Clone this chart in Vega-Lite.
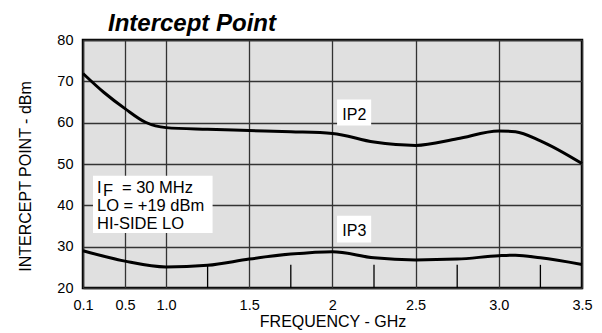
{
  "$schema": "https://vega.github.io/schema/vega-lite/v6.json",
  "width": 499,
  "height": 248,
  "autosize": {"type": "none"},
  "padding": {"left": 83, "top": 40, "right": 20, "bottom": 45},
  "background": "white",
  "config": {
    "font": "Liberation Sans",
    "view": {"fill": "#e0e0e0", "stroke": "black", "strokeWidth": 2.5},
    "axis": {"gridColor": "#333333", "gridWidth": 1.3, "gridOpacity": 1, "domain": false, "ticks": false,
             "labelFont": "Liberation Sans", "labelFontSize": 14.5, "labelColor": "black",
             "titleFont": "Liberation Sans", "titleFontSize": 16, "titleFontWeight": "normal", "titleColor": "black"}
  },
  "title": {"text": "Intercept Point", "anchor": "start", "frame": "group", "dx": 25, "offset": -4,
            "font": "Liberation Sans", "fontSize": 24, "fontWeight": "bold", "fontStyle": "italic", "color": "black"},
  "datasets": {
    "curves": [
      {"f": 0.1, "ip": 71.9, "s": "IP2"}, {"f": 0.3, "ip": 67.3, "s": "IP2"}, {"f": 0.5, "ip": 63.4, "s": "IP2"},
      {"f": 0.75, "ip": 60.1, "s": "IP2"}, {"f": 1.0, "ip": 58.8, "s": "IP2"}, {"f": 1.25, "ip": 58.4, "s": "IP2"},
      {"f": 1.5, "ip": 58.1, "s": "IP2"}, {"f": 1.75, "ip": 57.8, "s": "IP2"}, {"f": 2.0, "ip": 57.4, "s": "IP2"},
      {"f": 2.25, "ip": 55.3, "s": "IP2"}, {"f": 2.5, "ip": 54.5, "s": "IP2"}, {"f": 2.75, "ip": 56.1, "s": "IP2"},
      {"f": 3.0, "ip": 58.0, "s": "IP2"}, {"f": 3.1, "ip": 57.8, "s": "IP2"}, {"f": 3.25, "ip": 55.6, "s": "IP2"},
      {"f": 3.5, "ip": 50.1, "s": "IP2"},
      {"f": 0.1, "ip": 29.0, "s": "IP3"}, {"f": 0.5, "ip": 26.5, "s": "IP3"}, {"f": 1.0, "ip": 25.1, "s": "IP3"},
      {"f": 1.25, "ip": 25.5, "s": "IP3"}, {"f": 1.5, "ip": 27.0, "s": "IP3"}, {"f": 1.75, "ip": 28.2, "s": "IP3"},
      {"f": 2.0, "ip": 28.8, "s": "IP3"}, {"f": 2.25, "ip": 27.3, "s": "IP3"}, {"f": 2.5, "ip": 26.8, "s": "IP3"},
      {"f": 2.75, "ip": 27.0, "s": "IP3"}, {"f": 3.0, "ip": 27.8, "s": "IP3"}, {"f": 3.1, "ip": 27.95, "s": "IP3"},
      {"f": 3.25, "ip": 27.3, "s": "IP3"}, {"f": 3.5, "ip": 25.7, "s": "IP3"}
    ],
    "minor": [{"f": 1.25}, {"f": 1.75}, {"f": 2.25}, {"f": 2.75}, {"f": 3.25}],
    "boxes": [
      {"x1": 0.195, "x2": 1.28, "y1": 47.15, "y2": 33.3},
      {"x1": 2.028, "x2": 2.233, "y1": 65.6, "y2": 59.3},
      {"x1": 2.028, "x2": 2.233, "y1": 37.45, "y2": 30.98}
    ],
    "labels": [
      {"label": "IP2", "x": 2.132, "y": 60.65},
      {"label": "IP3", "x": 2.132, "y": 32.5}
    ],
    "notes": [
      {"t": "LO = +19 dBm", "x": 0.233, "y": 38.67},
      {"t": "HI-SIDE LO", "x": 0.233, "y": 34.38}
    ]
  },
  "layer": [
    {
      "data": {"name": "minor"},
      "mark": {"type": "rule", "color": "black", "strokeWidth": 1.3},
      "encoding": {
        "x": {"field": "f", "type": "quantitative",
              "scale": {"type": "linear", "domain": [0.1, 0.5, 1.0, 3.5], "range": [0, 42, 83, 499], "nice": false, "zero": false},
              "axis": {"values": [0.1, 0.5, 1, 1.5, 2, 2.5, 3, 3.5], "grid": true, "labelPadding": 10, "labelOverlap": false, "labelFlush": false,
                       "labelExpr": "datum.value == 2 ? '2' : format(datum.value, '.1f')",
                       "title": "FREQUENCY - GHz", "titlePadding": 2}},
        "y": {"datum": 20, "type": "quantitative",
              "scale": {"domain": [20, 80], "nice": false, "zero": false},
              "axis": {"values": [20, 30, 40, 50, 60, 70, 80], "grid": true, "labelPadding": 10,
                       "title": "INTERCEPT POINT - dBm", "titleAngle": -90, "titleX": -58, "titleY": 136,
                       "titleAlign": "center", "titleBaseline": "middle", "titleAnchor": null}},
        "y2": {"datum": 25.6}
      }
    },
    {
      "data": {"name": "curves"},
      "mark": {"type": "line", "color": "black", "strokeWidth": 3, "interpolate": "monotone"},
      "encoding": {
        "x": {"field": "f", "type": "quantitative"},
        "y": {"field": "ip", "type": "quantitative"},
        "detail": {"field": "s"}
      }
    },
    {
      "data": {"name": "boxes"},
      "mark": {"type": "rect", "color": "white"},
      "encoding": {
        "x": {"field": "x1", "type": "quantitative"},
        "x2": {"field": "x2"},
        "y": {"field": "y1", "type": "quantitative"},
        "y2": {"field": "y2"}
      }
    },
    {
      "data": {"name": "labels"},
      "mark": {"type": "text", "fontSize": 16, "baseline": "alphabetic", "align": "center", "color": "black"},
      "encoding": {
        "x": {"field": "x", "type": "quantitative"},
        "y": {"field": "y", "type": "quantitative"},
        "text": {"field": "label"}
      }
    },
    {
      "data": {"name": "notes"},
      "mark": {"type": "text", "fontSize": 16.5, "baseline": "alphabetic", "align": "left", "color": "black"},
      "encoding": {
        "x": {"field": "x", "type": "quantitative"},
        "y": {"field": "y", "type": "quantitative"},
        "text": {"field": "t"}
      }
    },
    {
      "data": {"values": [{"t": "I", "x": 0.233, "y": 43.03}]},
      "mark": {"type": "text", "fontSize": 16.5, "baseline": "alphabetic", "align": "left", "color": "black"},
      "encoding": {
        "x": {"field": "x", "type": "quantitative"},
        "y": {"field": "y", "type": "quantitative"},
        "text": {"field": "t"}
      }
    },
    {
      "data": {"values": [{"t": "F", "x": 0.233, "y": 43.03}]},
      "mark": {"type": "text", "fontSize": 16.5, "baseline": "alphabetic", "align": "left", "color": "black", "dx": 6, "dy": 3},
      "encoding": {
        "x": {"field": "x", "type": "quantitative"},
        "y": {"field": "y", "type": "quantitative"},
        "text": {"field": "t"}
      }
    },
    {
      "data": {"values": [{"t": "= 30 MHz", "x": 0.233, "y": 43.03}]},
      "mark": {"type": "text", "fontSize": 16.5, "baseline": "alphabetic", "align": "left", "color": "black", "dx": 25},
      "encoding": {
        "x": {"field": "x", "type": "quantitative"},
        "y": {"field": "y", "type": "quantitative"},
        "text": {"field": "t"}
      }
    }
  ]
}
